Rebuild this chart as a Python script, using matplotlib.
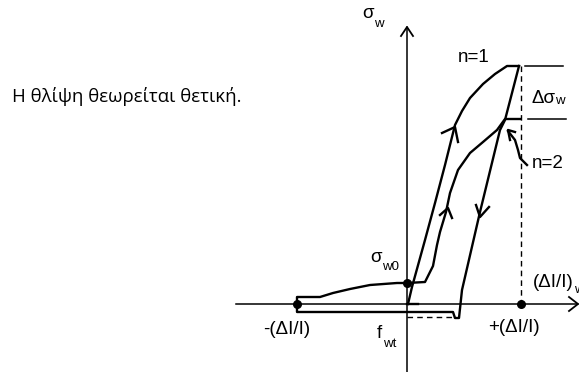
import matplotlib.pyplot as plt

# figure is laid out in pixel units: x to the right, y downwards
W, H = 579, 372

# axes of the diagram
origin = (407, 304)
axis_x_span = (236, 578)
axis_y_span = (372, 27)

# first loading branch (n=1)
n1_x = [408, 412, 425, 435, 445, 455, 462, 470, 483, 495, 507, 519]
n1_y = [304, 287, 240, 203, 165, 125, 111, 98, 84, 74, 66, 66]

# second loading branch (n=2), starting from sigma_w0
n2_x = [407, 425, 433, 437, 440, 446, 450, 458, 470, 483, 497, 505, 520]
n2_y = [283, 282, 266, 245, 232, 212, 193, 170, 153, 142, 130, 119, 119]

# unloading branch down to the tension limit and back along the bottom
unload_x = [519, 505, 500, 480, 462, 459, 455, 453, 297, 297, 320, 333, 350, 370, 397, 408]
unload_y = [66, 120, 130, 212, 290, 318, 318, 312, 312, 297, 297, 293, 289, 285, 283, 283]

# small pointer to the n=2 plateau
pointer_x = [508, 515, 518, 520, 527]
pointer_y = [131, 140, 150, 158, 165]

dots_x = [407, 297, 521]
dots_y = [283, 304, 304]

LW = 1.7
FS = 13.5
SUB = 9.5
FONT = "Liberation Sans"

fig = plt.figure(figsize=(W / 100, H / 100), dpi=100)
ax = fig.add_axes([0, 0, 1, 1])
ax.set_xlim(0, W)
ax.set_ylim(H, 0)
ax.axis("off")

# axes with open arrow heads
ax.plot(axis_x_span, [origin[1]] * 2, color="black", lw=1.1)
ax.plot([origin[0]] * 2, axis_y_span, color="black", lw=1.1)
ax.plot([569, 578, 569], [297, 304, 311], color="black", lw=1.3)
ax.plot([401, 407, 413], [36, 27, 36], color="black", lw=1.3)

# hysteresis curves
ax.plot(n1_x, n1_y, color="black", lw=LW, solid_joinstyle="round")
ax.plot(n2_x, n2_y, color="black", lw=LW, solid_joinstyle="round")
ax.plot(unload_x, unload_y, color="black", lw=LW, solid_joinstyle="round")
ax.plot([407, 418], [304, 304], color="black", lw=LW)

# direction chevrons on the curves
ax.plot([442, 455, 458], [133, 127, 142], color="black", lw=LW)
ax.plot([440, 448, 452], [215, 208, 218], color="black", lw=LW)
ax.plot([476, 480, 489], [205, 217, 207], color="black", lw=LW)

# pointer with its head
ax.plot(pointer_x, pointer_y, color="black", lw=LW)
ax.plot([515, 508, 510], [132, 130, 140], color="black", lw=LW)

# dashed guides and delta sigma markers
ax.plot([521, 521], [66, 304], color="black", lw=1.0, ls=(0, (4, 3)))
ax.plot([407, 455], [317, 317], color="black", lw=1.0, ls=(0, (4, 3)))
ax.plot([525, 563], [66, 66], color="black", lw=1.1)
ax.plot([528, 566], [119, 119], color="black", lw=1.1)

ax.scatter(dots_x, dots_y, s=30, color="black", zorder=5)

fig.canvas.draw()
renderer = fig.canvas.get_renderer()


def label(x, y, main, sub=None, drop=8, ha="left"):
    """main text on baseline y, optional subscript right after it"""
    t = ax.text(x, y, main, fontsize=FS, family=FONT, ha=ha, va="baseline")
    if sub:
        bb = t.get_window_extent(renderer).transformed(ax.transData.inverted())
        x1 = max(bb.x0, bb.x1)
        ax.text(x1 + 0.5, y + drop, sub, fontsize=SUB, family=FONT,
                ha="left", va="baseline")
    return t


label(362, 18, "σ", "w", drop=9)
label(458, 62, "n=1")
label(531, 103, "Δσ", "w", drop=1)
label(532, 168, "n=2")
label(370, 262, "σ", "w0", drop=8)
label(377, 338, "f", "wt", drop=9)
label(263, 334, "-(ΔI/I)")
label(488, 332, "+(ΔI/I)")
label(533, 287, "(ΔI/I)", "w", drop=6)

ax.text(12, 102, "Η θλίψη θεωρείται θετική.", fontsize=13.4,
        family="Open Sans", ha="left", va="baseline")

fig.savefig("out.png", dpi=100)
